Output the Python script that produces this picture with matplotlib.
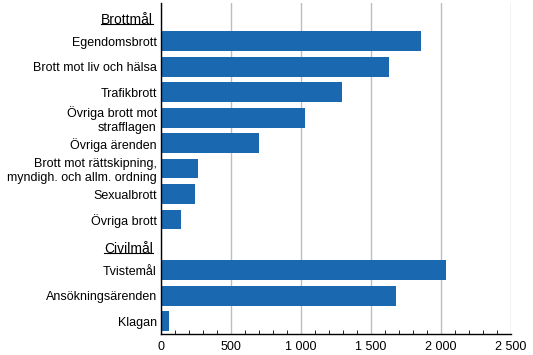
import numpy as np
import matplotlib
matplotlib.use('Agg')
import matplotlib.pyplot as plt
from matplotlib.ticker import MultipleLocator, FuncFormatter
from matplotlib.lines import Line2D

plt.rcParams['font.family'] = ['Liberation Sans', 'DejaVu Sans']

# rader uppifrån och ned, rubriker har inget värde
labels = ['Brottmål', 'Egendomsbrott', 'Brott mot liv och hälsa', 'Trafikbrott',
          'Övriga brott mot\nstrafflagen', 'Övriga ärenden',
          'Brott mot rättskipning,\nmyndigh. och allm. ordning',
          'Sexualbrott', 'Övriga brott',
          'Civilmål', 'Tvistemål', 'Ansökningsärenden', 'Klagan']
values = [np.nan, 1855, 1629, 1293, 1030, 700, 264, 243, 143,
          np.nan, 2036, 1679, 57]
headers = ['Brottmål', 'Civilmål']
xticks = [0, 500, 1000, 1500, 2000, 2500]

color = '#1a68b0'

fig = plt.figure(figsize=(5.33, 3.55), dpi=100)
ax = fig.add_axes([0.302, 0.059, 0.657, 0.9325])

y = np.arange(len(labels))
vals = np.nan_to_num(np.array(values, dtype=float))
ax.barh(y, vals, height=0.78, color=color, zorder=3)

ax.set_ylim(len(labels) - 0.5, -0.5)
ax.set_xlim(0, 2500)
ax.set_yticks(y)
ax.set_yticklabels(['' if l in headers else l for l in labels],
                   fontsize=9, ha='right', multialignment='right')
ax.tick_params(axis='y', length=0, pad=3)

ax.set_xticks(xticks)
ax.xaxis.set_major_formatter(FuncFormatter(lambda v, p: f'{int(v):,}'.replace(',', ' ')))
ax.xaxis.set_minor_locator(MultipleLocator(100))
ax.tick_params(axis='x', which='major', length=0, labelsize=9, pad=5)
ax.tick_params(axis='x', which='minor', direction='in', length=3, color='black')
ax.grid(axis='x', color='#bdbdbd', linewidth=1, zorder=0)
ax.set_axisbelow(True)

for s in ['top', 'right']:
    ax.spines[s].set_visible(False)
for s in ['left', 'bottom']:
    ax.spines[s].set_color('black')
    ax.spines[s].set_linewidth(1)
    ax.spines[s].set_zorder(4)

# rubriker med understrykning
from matplotlib.transforms import blended_transform_factory, ScaledTranslation
trans = blended_transform_factory(ax.transAxes, ax.transData) + \
    ScaledTranslation(-8 / 100, -4 / 100, fig.dpi_scale_trans)
htexts = []
for h in headers:
    t = ax.text(0, labels.index(h), h, transform=trans, ha='right', va='center',
                fontsize=10)
    htexts.append(t)

fig.canvas.draw()
r = fig.canvas.get_renderer()
for t in htexts:
    bb = t.get_window_extent(r)
    yl = bb.y0 + 0.2 * bb.height
    inv = fig.transFigure.inverted()
    (x0, y0), (x1, _) = inv.transform([(bb.x0, yl), (bb.x1, yl)])
    fig.add_artist(Line2D([x0, x1], [y0, y0], color='black', linewidth=0.8))

fig.savefig('out.png', dpi=100)
